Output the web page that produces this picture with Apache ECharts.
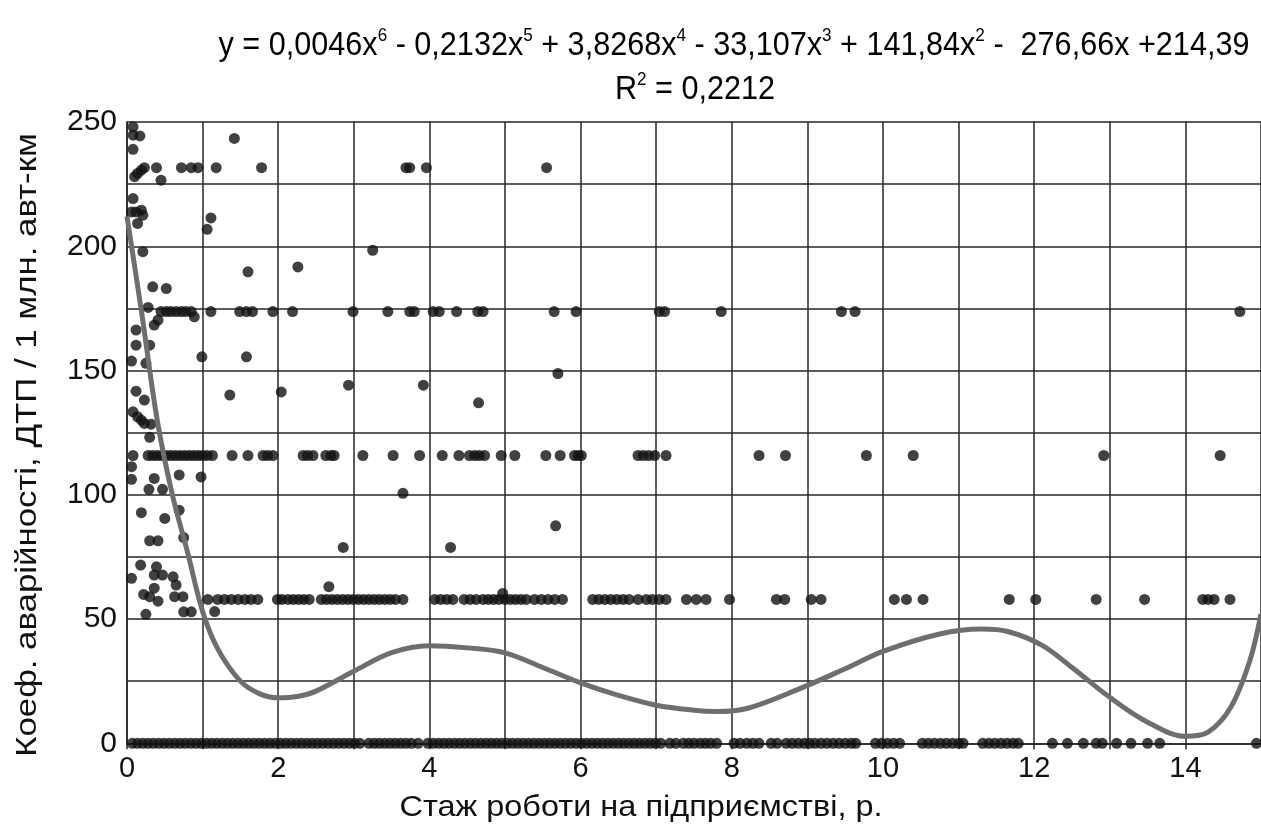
<!DOCTYPE html>
<html><head><meta charset="utf-8">
<script src="https://cdn.jsdelivr.net/npm/echarts@6/dist/echarts.min.js"></script>
<style>html,body{margin:0;padding:0;background:#fff}#c{width:1261px;height:836px}</style>
</head><body><div id="c"></div>
<script>
// ---- data ----
const rowLevels = [0, 57.9, 115.8, 173.7, 231.6];
const row0X = [0.07,0.14,0.21,0.28,0.35,0.42,0.49,0.56,0.63,0.7,0.77,0.84,0.91,0.98,1.05,1.12,1.19,1.26,1.33,1.4,1.47,1.54,1.61,1.68,1.75,1.82,1.89,1.96,2.03,2.1,2.17,2.24,2.31,2.38,2.45,2.52,2.59,2.66,2.73,2.8,2.87,2.94,3.01,3.08,
  3.2,3.27,3.34,3.41,3.48,3.55,3.62,3.69,3.76,3.85,
  3.98,4.05,4.12,4.19,4.26,4.33,4.4,4.47,4.54,4.61,4.68,4.75,4.82,4.89,4.96,5.03,5.1,5.17,5.24,5.31,5.38,5.45,5.52,5.59,5.66,5.73,5.8,5.87,5.94,6.01,6.08,6.15,6.22,6.29,6.36,6.43,6.5,6.57,6.64,6.71,6.78,6.85,6.92,6.99,7.06,
  7.18,7.26,7.36,7.43,7.5,7.58,7.65,7.72,7.8,
  8.03,8.11,8.2,8.28,8.36,8.52,8.6,8.72,8.8,8.88,8.96,9.03,9.1,9.18,9.26,9.34,9.42,9.5,9.58,9.64,
  9.9,9.98,10.06,10.14,10.22,10.52,10.6,10.68,10.76,10.84,10.92,11.0,11.06,
  11.32,11.4,11.48,11.56,11.64,11.72,11.79,
  12.24,12.44,12.65,12.82,12.9,13.09,13.28,13.5,13.66,14.94];
const row58X = [1.07,1.2,1.29,1.38,1.47,1.56,1.64,1.73,1.99,2.05,2.13,2.2,2.27,2.34,2.41,2.57,2.64,2.71,2.78,2.85,2.92,2.99,3.06,3.13,3.2,3.27,3.34,3.41,3.48,3.55,3.65,
  4.07,4.15,4.23,4.31,4.46,4.54,4.62,4.71,4.78,4.85,4.92,5.0,5.07,5.14,5.21,5.28,5.39,5.48,5.57,5.66,5.76,
  6.16,6.24,6.32,6.4,6.48,6.56,6.64,6.76,6.87,6.95,7.04,7.13,7.4,7.53,7.66,7.97,8.59,8.7,9.05,9.18,
  10.15,10.31,10.53,11.67,12.02,12.82,13.46,14.23,14.3,14.38,14.59];
const row116X = [0.08,0.28,0.34,0.4,0.46,0.52,0.58,0.64,0.7,0.76,0.82,0.88,0.94,1.0,1.06,1.13,1.39,1.6,1.8,1.86,1.93,2.33,2.39,2.46,2.63,2.7,2.74,3.12,3.52,3.87,
  4.17,4.39,4.53,4.6,4.66,4.73,4.95,5.13,5.54,5.73,5.92,5.97,6.01,6.76,6.83,6.9,6.98,7.13,8.36,8.71,9.78,10.4,12.92,14.46];
const row174X = [0.45,0.52,0.58,0.65,0.72,0.78,0.85,1.11,1.49,1.58,1.66,1.93,2.19,2.99,3.45,3.74,3.8,4.05,4.13,4.36,4.64,4.71,5.65,5.94,7.04,7.11,7.86,9.45,9.63,14.72];
const row232X = [0.23,0.39,0.72,0.85,0.94,1.18,1.78,3.69,3.74,3.96,5.55];
const otherPts = [
  [0.08,248],[0.08,244.7],[0.17,244.4],[0.08,239],[1.42,243.4],
  [0.1,228],[0.14,229.3],[0.19,230.6],[0.45,226.6],
  [0.08,219.2],[0.06,213.8],[0.12,213.8],[0.19,214.5],[0.21,212.5],[0.14,209.2],[1.11,211.4],[1.06,206.8],
  [0.21,197.8],[3.25,198.4],[1.6,189.7],[2.26,191.7],[0.34,183.7],[0.52,183],
  [0.28,175.4],[0.89,171.6],[0.36,168.3],[0.41,170.3],[0.12,166.3],
  [0.12,160.2],[0.3,160.2],[0.06,153.8],[0.25,152.9],[0.99,155.5],[1.58,155.5],
  [0.12,141.7],[0.23,138.1],[1.36,140.1],[2.04,141.4],[2.93,144.1],[3.92,144.1],[4.65,137],[5.7,148.8],
  [0.08,133.4],[0.14,131.4],[0.19,130],[0.23,128.7],[0.32,128.4],[0.3,123.1],
  [0.06,111.3],[0.06,106.2],[0.36,106.6],[0.69,108],[0.98,107.2],[0.29,102.2],[0.47,102.2],[3.65,100.6],
  [0.19,92.8],[0.5,90.5],[0.69,93.8],[0.3,81.5],[0.41,81.5],[0.75,82.8],[2.86,78.8],[4.28,78.8],[5.67,87.5],
  [0.18,71.7],[0.39,71],[0.36,67.7],[0.47,67.7],[0.61,67],[0.06,66.4],[0.65,63.7],[0.36,62.4],
  [0.22,59.9],[0.3,59],[0.41,57.2],[0.63,59],[0.74,59],[0.25,51.9],[0.75,52.9],[0.85,52.9],[1.16,53],[2.67,63],[4.97,60.3]
];
const trendX = [0,0.2,0.4,0.6,0.8,1.0,1.2,1.5,1.75,2.0,2.25,2.5,3.0,3.5,4.0,4.5,5.0,5.5,6.0,6.5,7.0,7.5,7.8,8.2,8.9,9.5,10.0,10.75,11.3,11.65,12.1,12.5,13.0,13.5,14.0,14.3,14.6,14.85,15.0];
const trendY = [212,172,130,100,77,53,38,25,20,18.3,18.8,21,29,36.5,39.3,38.4,36.4,30.5,24.3,19.3,15.3,13.3,12.8,14,22,30,37,44,46,45,39.5,30.5,18.5,8.5,2.8,4.5,14.5,33,52];
const xTickLabels = ['0','2','4','6','8','10','12','14'];
const yTickLabels = ['0','50','100','150','200','250'];
const eqText = '{a|y = 0,0046x}{s|6}{a| - 0,2132x}{s|5}{a| + 3,8268x}{s|4}{a| - 33,107x}{s|3}{a| + 141,84x}{s|2}{a| -  276,66x +214,39}';
const r2Text = '{a|R}{s|2}{a| = 0,2212}';
const xTitle = 'Стаж роботи на підприємстві, р.';
const yTitle = 'Коеф. аварійності, ДТП / 1 млн. авт-км';

// ---- build ----
const pts = [];
[row0X,row58X,row116X,row174X,row232X].forEach((arr,i)=>arr.forEach(x=>pts.push([x,rowLevels[i]])));
otherPts.forEach(p=>pts.push(p));
const trend = trendX.map((x,i)=>[x,trendY[i]]);

const FONT = '"Liberation Sans", Arial, sans-serif';
const richEq = {
  a:{fontFamily:FONT,fontSize:34,lineHeight:40,color:'#111'},
  s:{fontFamily:FONT,fontSize:19,lineHeight:22,verticalAlign:'top',color:'#111'}
};
const chart = echarts.init(document.getElementById('c'),null,{renderer:'canvas'});
chart.setOption({
  animation:false,
  backgroundColor:'#fff',
  grid:{left:127,top:122,right:0,bottom:92.7,containLabel:false},
  xAxis:{type:'value',min:0,max:15,interval:1,
    axisLine:{show:true,onZero:false,lineStyle:{color:'#262626',width:1.5}},
    axisTick:{show:true,length:6,lineStyle:{color:'#262626',width:1.5}},
    splitLine:{show:true,lineStyle:{color:'#262626',width:1.5}},
    axisLabel:{fontFamily:FONT,fontSize:29,color:'#111',margin:11,
      formatter:v=>{const s=String(v);return xTickLabels.indexOf(s)>=0?s:'';},showMaxLabel:false}
  },
  yAxis:{type:'value',min:0,max:250,interval:25,
    axisLine:{show:true,lineStyle:{color:'#262626',width:1.5}},
    axisTick:{show:false},
    splitLine:{show:true,lineStyle:{color:'#262626',width:1.5}},
    axisLabel:{fontFamily:FONT,fontSize:30,color:'#111',margin:10,
      formatter:v=>{const s=String(v);return yTickLabels.indexOf(s)>=0?s:'';}}
  },
  graphic:[
    {type:'text',x:734,y:46,scaleX:0.9,style:{text:eqText,rich:richEq,align:'center',verticalAlign:'middle'}},
    {type:'text',x:695,y:90,scaleX:0.9,style:{text:r2Text,rich:richEq,align:'center',verticalAlign:'middle'}},
    {type:'text',x:641,y:808,scaleX:1.12,style:{text:xTitle,font:'29px '+FONT,fill:'#111',align:'center',verticalAlign:'middle'}},
    {type:'text',x:28,y:445,rotation:Math.PI/2,scaleX:1.2,style:{text:yTitle,font:'29px '+FONT,fill:'#111',align:'center',verticalAlign:'middle'}}
  ],
  series:[
    {type:'scatter',data:pts,symbol:'circle',symbolSize:11,itemStyle:{color:'#111'},z:3,silent:true},
    {type:'line',data:trend,smooth:0.35,symbol:'none',lineStyle:{color:'#6e6e6e',width:5},z:4,silent:true,clip:true}
  ]
});
</script></body></html>
